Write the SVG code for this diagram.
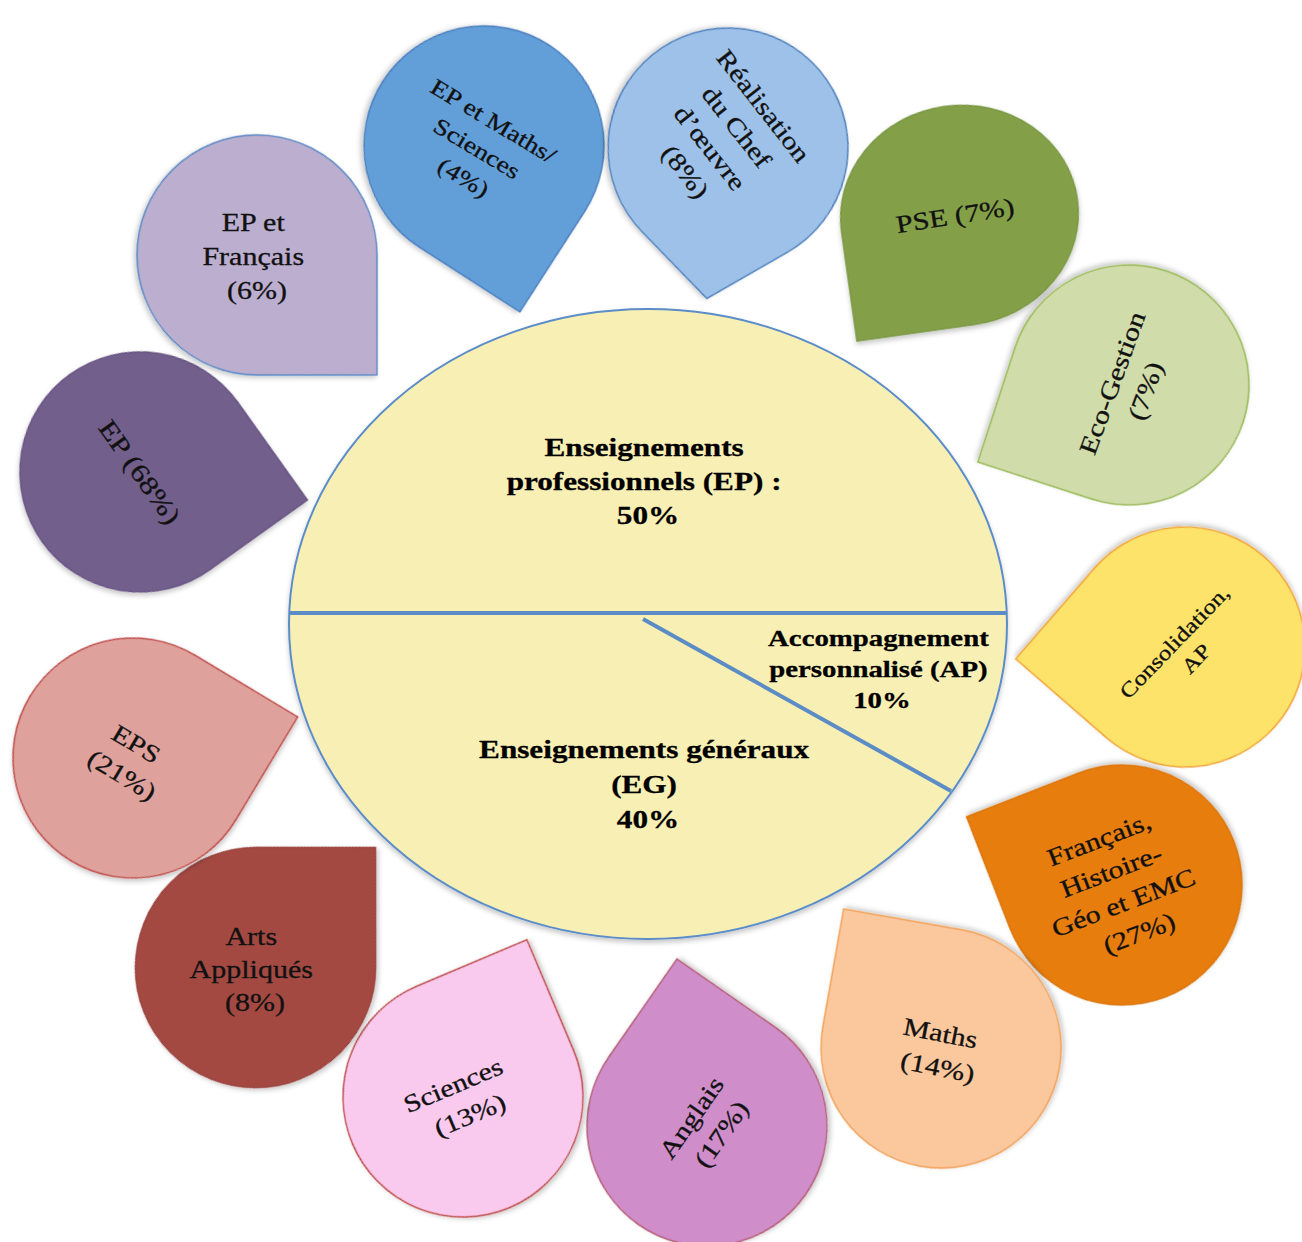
<svg xmlns="http://www.w3.org/2000/svg" width="1302" height="1242" viewBox="0 0 1302 1242">
  <defs>
    <filter id="sh" x="-20%" y="-20%" width="140%" height="140%">
      <feDropShadow dx="0" dy="3" stdDeviation="2.5" flood-color="#000" flood-opacity="0.22"/>
    </filter>
    <path id="drop" d="M84.85,-84.85 L169.71,0 L84.85,84.85 A120,120 0 1 1 84.85,-84.85 Z"/>
    <path id="dropS" d="M94.74,-73.66 L152,0 L94.74,73.66 A120,120 0 1 1 94.74,-73.66 Z"/>
  </defs>
  <style>
    .d { stroke-width: 1.5; filter: url(#sh); }
    .t { font-family: "Liberation Serif", "DejaVu Serif", serif; font-size: 25px; fill: #111; stroke: #111; stroke-width: 0.3px; text-anchor: middle; }
    .b { font-family: "Liberation Serif", "DejaVu Serif", serif; font-size: 26px; font-weight: bold; fill: #000; stroke: #000; stroke-width: 0.3px; text-anchor: middle; }
    .pie { fill: #f8efb4; stroke: #5b8dc9; stroke-width: 2; filter: url(#sh); }
    .div { stroke: #5b8cc5; stroke-width: 4; fill: none; }
  </style>
  <rect width="1302" height="1242" fill="#ffffff"/>

  <g id="pie">
    <ellipse class="pie" cx="648" cy="624" rx="359" ry="315"/>
    <text class="b" transform="translate(648 0) scale(1.2 1)">
      <tspan x="0" y="456">Enseignements</tspan>
      <tspan x="0" y="490">professionnels (EP) :</tspan>
      <tspan x="0" y="524">50%</tspan>
    </text>
    <text class="b" style="font-size:24px" transform="translate(882 0) scale(1.2 1)">
      <tspan x="0" y="646">Accompagnement</tspan>
      <tspan x="0" y="677">personnalisé (AP)</tspan>
      <tspan x="0" y="708">10%</tspan>
    </text>
    <text class="b" transform="translate(648 0) scale(1.2 1)">
      <tspan x="0" y="758">Enseignements généraux</tspan>
      <tspan x="0" y="793">(EG)</tspan>
      <tspan x="0" y="828">40%</tspan>
    </text>
  </g>

  <g id="pie-lines">
    <line class="div" x1="289" y1="613" x2="1007" y2="613"/>
    <line class="div" x1="643" y1="619" x2="951" y2="791"/>
  </g>

  <g id="n-ep68">
    <use href="#drop" class="d" fill="#725e8c" stroke="#6a5684" transform="translate(140 472) rotate(9.5)"/>
    <text class="t" style="font-size:26px" transform="translate(140 472) rotate(54.5) scale(1.2 1)"><tspan x="0" y="9">EP (68%)</tspan></text>
  </g>

  <g id="n-ep-francais">
    <use href="#drop" class="d" fill="#bcaecf" stroke="#5d8bc6" transform="translate(257 255) rotate(45)"/>
    <text class="t" transform="translate(257 256) scale(1.2 1)">
      <tspan x="0" y="-25">EP et</tspan>
      <tspan x="0" y="9">Français</tspan>
      <tspan x="0" y="43">(6%)</tspan>
    </text>
  </g>

  <g id="n-ep-maths">
    <use href="#drop" class="d" fill="#629fd9" stroke="#4d80bf" transform="translate(484 146) rotate(77.8)"/>
    <text class="t" style="font-size:23px" transform="translate(480 150) rotate(31) scale(1.2 1)">
      <tspan x="0" y="-24">EP et Maths/</tspan>
      <tspan x="0" y="8">Sciences</tspan>
      <tspan x="0" y="40">(4%)</tspan>
    </text>
  </g>

  <g id="n-chef-oeuvre">
    <use href="#dropS" class="d" fill="#9dc1e8" stroke="#4f81bd" transform="translate(728 148) rotate(98)"/>
    <text class="t" transform="translate(726 140) rotate(52) scale(1.2 1)">
      <tspan x="0" y="-42">Réalisation</tspan>
      <tspan x="0" y="-8">du Chef</tspan>
      <tspan x="0" y="26">d’œuvre</tspan>
      <tspan x="0" y="60">(8%)</tspan>
    </text>
  </g>

  <g id="n-pse">
    <path class="d" fill="#83a049" stroke="#7a9844" d="M-119,0 A119,110 0 1 1 0,110 L-119,110 Z" transform="translate(959.5 215.5) rotate(-8)"/>
    <text class="t" transform="translate(955 215) rotate(-9) scale(1.2 1)"><tspan x="0" y="9">PSE (7%)</tspan></text>
  </g>

  <g id="n-eco-gestion">
    <use href="#drop" class="d" fill="#d0dca9" stroke="#9bbb59" transform="translate(1129 385) rotate(153)"/>
    <text class="t" transform="translate(1129 385) rotate(-70) scale(1.2 1)">
      <tspan x="0" y="-8">Eco-Gestion</tspan>
      <tspan x="0" y="26">(7%)</tspan>
    </text>
  </g>

  <g id="n-consolidation">
    <use href="#drop" class="d" fill="#fde36a" stroke="#f3a53a" transform="translate(1185 647) rotate(176)"/>
    <text class="t" style="font-size:21px" transform="translate(1186 649) rotate(-46) scale(1.2 1)">
      <tspan x="0" y="-6">Consolidation,</tspan>
      <tspan x="0" y="21">AP</tspan>
    </text>
  </g>

  <g id="n-francais-hg">
    <use href="#drop" class="d" fill="#e67d0e" stroke="#dc760c" transform="translate(1122 885) rotate(-156.3)"/>
    <text class="t" transform="translate(1121 886) rotate(-21) scale(1.2 1)">
      <tspan x="0" y="-43">Français,</tspan>
      <tspan x="0" y="-9">Histoire-</tspan>
      <tspan x="0" y="25">Géo et EMC</tspan>
      <tspan x="0" y="59">(27%)</tspan>
    </text>
  </g>

  <g id="n-maths">
    <use href="#drop" class="d" fill="#fbc89e" stroke="#f2a35c" transform="translate(941 1048) rotate(-125)"/>
    <text class="t" transform="translate(941 1050) rotate(11) scale(1.2 1)">
      <tspan x="0" y="-8">Maths</tspan>
      <tspan x="0" y="26">(14%)</tspan>
    </text>
  </g>

  <g id="n-anglais">
    <use href="#drop" class="d" fill="#cf8ec9" stroke="#b65e78" transform="translate(707 1126) rotate(-100.2)"/>
    <text class="t" transform="translate(707 1124) rotate(-55) scale(1.2 1)">
      <tspan x="0" y="-8">Anglais</tspan>
      <tspan x="0" y="26">(17%)</tspan>
    </text>
  </g>

  <g id="n-sciences">
    <use href="#drop" class="d" fill="#fac9ee" stroke="#c0504d" transform="translate(463 1097) rotate(-67.9)"/>
    <text class="t" transform="translate(463 1099) rotate(-23) scale(1.2 1)">
      <tspan x="0" y="-8">Sciences</tspan>
      <tspan x="0" y="26">(13%)</tspan>
    </text>
  </g>

  <g id="n-arts">
    <use href="#drop" class="d" fill="#a34843" stroke="#9c4540" transform="translate(255.5 967.5) rotate(-45)"/>
    <text class="t" transform="translate(255 968) scale(1.2 1)">
      <tspan x="0" y="-23">Arts</tspan>
      <tspan x="0" y="10">Appliqués</tspan>
      <tspan x="0" y="43">(8%)</tspan>
    </text>
  </g>

  <g id="n-eps">
    <use href="#drop" class="d" fill="#dfa19c" stroke="#c0504d" transform="translate(133 758) rotate(-14)"/>
    <text class="t" transform="translate(131 760) rotate(31) scale(1.2 1)">
      <tspan x="0" y="-8">EPS</tspan>
      <tspan x="0" y="26">(21%)</tspan>
    </text>
  </g>
</svg>
